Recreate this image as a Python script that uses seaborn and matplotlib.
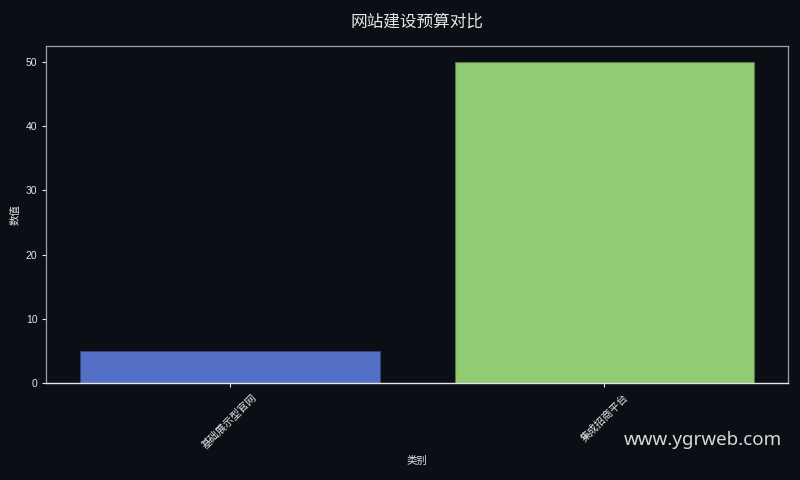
import matplotlib
matplotlib.use('Agg')
import matplotlib.pyplot as plt
import seaborn as sns
import pandas as pd

# data
categories = ['基础展示型官网', '集成招商平台']
values = [5, 50]
bar_colors = ['#5470c6', '#91cc75']

bg = '#0b0e14'
fg = '#e6e6e6'

sns.set_theme(style='dark')
plt.rcParams['font.family'] = ['Liberation Sans', 'Noto Sans CJK SC', 'DejaVu Sans']
plt.rcParams['axes.unicode_minus'] = False

df = pd.DataFrame({'类别': categories, '数值': values})

fig, ax = plt.subplots(figsize=(8, 4.8), dpi=100)
fig.patch.set_facecolor(bg)
ax.set_facecolor(bg)

sns.barplot(data=df, x='类别', y='数值', hue='类别', palette=bar_colors,
            saturation=1, legend=False, ax=ax, width=0.8)
for p in ax.patches:
    fc = p.get_facecolor()
    p.set_edgecolor((fc[0] * 0.6, fc[1] * 0.6, fc[2] * 0.6, 1))
    p.set_linewidth(0.8)
ax.set_xlim(-0.49, 1.49)

ax.set_title('网站建设预算对比', color=fg, fontsize=12, pad=14,
             family=['Noto Sans CJK SC', 'DejaVu Sans'])
ax.set_xlabel('类别', color=fg, fontsize=7.5)
ax.set_ylabel('数值', color=fg, fontsize=7.5)
ax.tick_params(axis='both', colors=fg, labelsize=7.5, length=3, width=0.8,
               bottom=True, left=True)
plt.setp(ax.get_xticklabels(), rotation=45)
ax.grid(False)
for side in ['top', 'right', 'left']:
    ax.spines[side].set_color('#a0a0a0')
    ax.spines[side].set_linewidth(0.9)
    ax.spines[side].set_visible(True)
ax.spines['bottom'].set_color('#e8e8e8')
ax.spines['bottom'].set_linewidth(1.0)

fig.text(0.977, 0.065, 'www.ygrweb.com', color='#d8d8d8', fontsize=13.5,
         ha='right', va='bottom', family=['Noto Sans', 'DejaVu Sans'])

fig.subplots_adjust(left=0.058, right=0.985, top=0.904, bottom=0.202)
fig.savefig('out.png', dpi=100, facecolor=bg)
